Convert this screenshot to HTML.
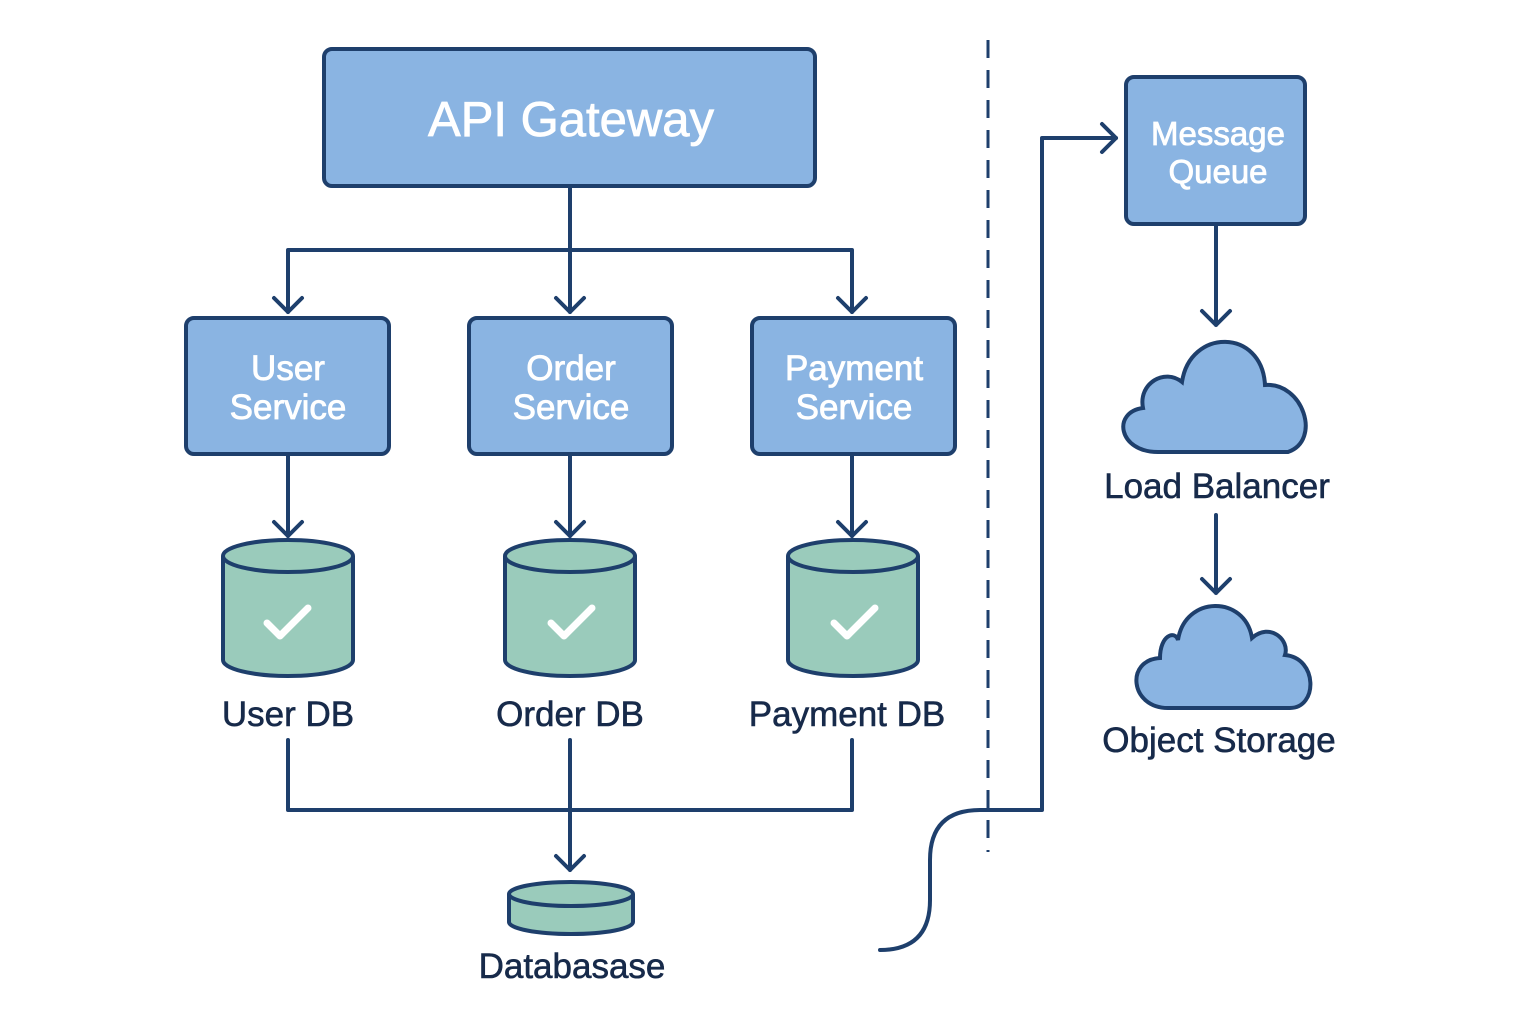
<!DOCTYPE html>
<html><head><style>body{margin:0;background:#fff}svg{display:block}</style></head>
<body>
<svg width="1536" height="1024" viewBox="0 0 1536 1024" xmlns="http://www.w3.org/2000/svg">
<g fill="none" stroke="#1e3f6c" stroke-width="4" stroke-linecap="round" stroke-linejoin="round">
<path d="M570 186 V312 M288 312 V250 H852 V312"/>
<path d="M274 298 L288 312 L302 298 M556 298 L570 312 L584 298 M838 298 L852 312 L866 298"/>
<path d="M288 454 V536 M570 454 V536 M852 454 V536"/>
<path d="M274 522 L288 536 L302 522 M556 522 L570 536 L584 522 M838 522 L852 536 L866 522"/>
<path d="M288 740 V810 H852 V740 M570 740 V870"/>
<path d="M556 856 L570 870 L584 856"/>
<path d="M880 950 Q930 950 930 900 L930 860 Q930 810 980 810 L1042 810 L1042 138 L1116 138"/>
<path d="M1102 124 L1116 138 L1102 152"/>
<path d="M1216 224 V325 M1202 311 L1216 325 L1230 311"/>
<path d="M1216 515 V593 M1202 579 L1216 593 L1230 579"/>
</g>
<line x1="988" y1="40" x2="988" y2="852" stroke="#1e3f6c" stroke-width="3" stroke-dasharray="18 12"/>
<g stroke="#1e3f6c" stroke-width="4" fill="#8ab4e2">
<rect x="324" y="49" width="491" height="137" rx="8"/>
<rect x="186" y="318" width="203" height="136" rx="8"/>
<rect x="469" y="318" width="203" height="136" rx="8"/>
<rect x="752" y="318" width="203" height="136" rx="8"/>
<rect x="1126" y="77" width="179" height="147" rx="8"/>
<path d="M1158 452 C1118 452 1112 412 1143 408 C1138 383 1165 368 1182 382 C1190 328 1262 328 1265 385 C1303 382 1322 440 1288 452 Z"/>
<path d="M1168 708 C1130 708 1125 660 1160 658 C1160 635 1175 630 1178 640 C1185 595 1245 595 1252 638 C1270 622 1290 640 1285 655 C1318 658 1318 708 1290 708 Z"/>
</g>
<g stroke="#1e3f6c" stroke-width="4" fill="#9acbbb">
<path d="M223 556 V660 A65 16 0 0 0 353 660 V556"/><ellipse cx="288" cy="556" rx="65" ry="16"/>
<path d="M505 556 V660 A65 16 0 0 0 635 660 V556"/><ellipse cx="570" cy="556" rx="65" ry="16"/>
<path d="M788 556 V660 A65 16 0 0 0 918 660 V556"/><ellipse cx="853" cy="556" rx="65" ry="16"/>
<path d="M509 894 V922 A62 12 0 0 0 633 922 V894"/><ellipse cx="571" cy="894" rx="62" ry="12"/>
</g>
<g fill="none" stroke="#fff" stroke-width="7" stroke-linecap="round" stroke-linejoin="round">
<path d="M267 623 L280 636 L308 608"/><path d="M551 623 L564 636 L592 608"/><path d="M834 623 L847 636 L875 608"/>
</g>
<g font-family="Liberation Sans, sans-serif" text-anchor="middle" fill="#fff" stroke="#fff" stroke-width="0.8">
<text x="571" y="136" font-size="49">API Gateway</text>
<text x="288" y="380" font-size="35">User</text><text x="288" y="419" font-size="35">Service</text>
<text x="571" y="380" font-size="35">Order</text><text x="571" y="419" font-size="35">Service</text>
<text x="854" y="380" font-size="35">Payment</text><text x="854" y="419" font-size="35">Service</text>
<text x="1218" y="145" font-size="33">Message</text><text x="1218" y="183" font-size="33">Queue</text>
</g>
<g font-family="Liberation Sans, sans-serif" text-anchor="middle" fill="#172a4a" stroke="#172a4a" stroke-width="0.6" font-size="35">
<text x="288" y="726">User DB</text>
<text x="570" y="726">Order DB</text>
<text x="847" y="726">Payment DB</text>
<text x="572" y="978">Databasase</text>
<text x="1217" y="498">Load Balancer</text>
<text x="1219" y="752">Object Storage</text>
</g>
</svg>
</body></html>
